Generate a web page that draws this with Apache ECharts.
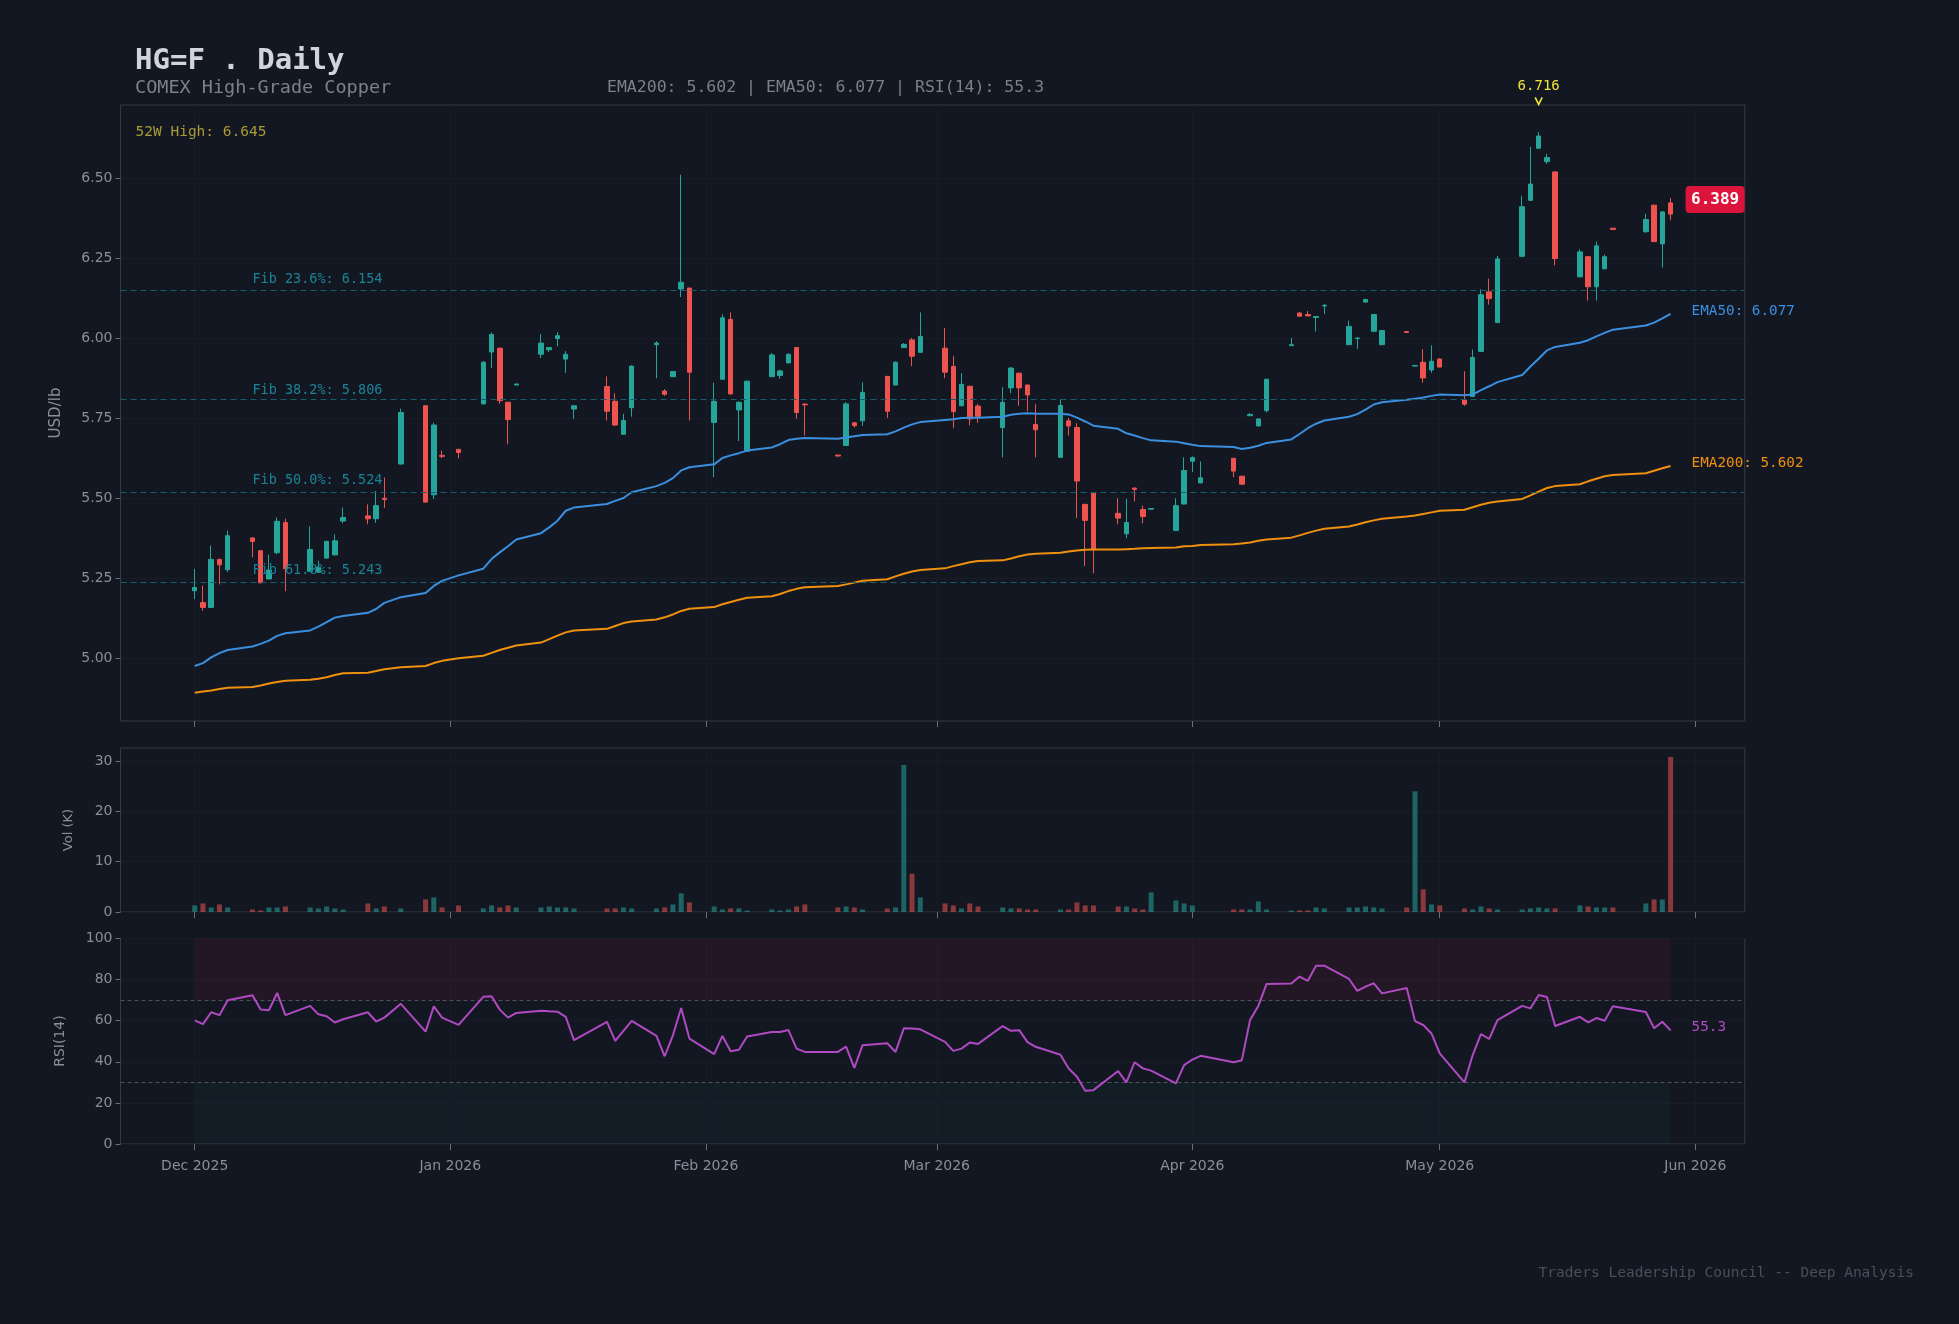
<!DOCTYPE html>
<html><head><meta charset="utf-8">
<script src="https://cdn.jsdelivr.net/npm/echarts@6/dist/echarts.min.js"></script>
<style>html,body{margin:0;padding:0;background:#131722}#c{width:1959px;height:1324px}</style>
</head><body><div id="c"></div>
<script>
// ---------------- DATA ----------------
const tradeDates = [
 '2025-12-01','2025-12-02','2025-12-03','2025-12-04','2025-12-05','2025-12-08','2025-12-09','2025-12-10','2025-12-11','2025-12-12',
 '2025-12-15','2025-12-16','2025-12-17','2025-12-18','2025-12-19','2025-12-22','2025-12-23','2025-12-24','2025-12-26','2025-12-29','2025-12-30','2025-12-31',
 '2026-01-02','2026-01-05','2026-01-06','2026-01-07','2026-01-08','2026-01-09','2026-01-12','2026-01-13','2026-01-14','2026-01-15','2026-01-16',
 '2026-01-20','2026-01-21','2026-01-22','2026-01-23','2026-01-26','2026-01-27','2026-01-28','2026-01-29','2026-01-30',
 '2026-02-02','2026-02-03','2026-02-04','2026-02-05','2026-02-06','2026-02-09','2026-02-10','2026-02-11','2026-02-12','2026-02-13',
 '2026-02-17','2026-02-18','2026-02-19','2026-02-20','2026-02-23','2026-02-24','2026-02-25','2026-02-26','2026-02-27',
 '2026-03-02','2026-03-03','2026-03-04','2026-03-05','2026-03-06','2026-03-09','2026-03-10','2026-03-11','2026-03-12','2026-03-13',
 '2026-03-16','2026-03-17','2026-03-18','2026-03-19','2026-03-20','2026-03-23','2026-03-24','2026-03-25','2026-03-26','2026-03-27','2026-03-30','2026-03-31',
 '2026-04-01','2026-04-02','2026-04-06','2026-04-07','2026-04-08','2026-04-09','2026-04-10','2026-04-13','2026-04-14','2026-04-15','2026-04-16','2026-04-17',
 '2026-04-20','2026-04-21','2026-04-22','2026-04-23','2026-04-24','2026-04-27','2026-04-28','2026-04-29','2026-04-30',
 '2026-05-01','2026-05-04','2026-05-05','2026-05-06','2026-05-07','2026-05-08','2026-05-11','2026-05-12','2026-05-13','2026-05-14','2026-05-15',
 '2026-05-18','2026-05-19','2026-05-20','2026-05-21','2026-05-22','2026-05-26','2026-05-27','2026-05-28','2026-05-29'
];
const openP = [
 5.212,5.175,5.160,5.310,5.278,5.377,5.337,5.249,5.331,5.425,5.273,5.270,5.314,5.324,5.430,5.446,5.437,5.501,5.608,5.790,5.512,5.635,
 5.654,5.796,5.958,5.970,5.801,5.855,5.951,5.965,6.000,5.936,5.780,5.850,5.804,5.701,5.784,5.981,5.836,5.881,6.155,6.158,
 5.738,5.873,6.060,5.777,5.648,5.881,5.885,5.924,5.972,5.795,5.636,5.666,5.737,5.743,5.882,5.855,5.972,5.996,5.957,
 5.970,5.913,5.790,5.851,5.789,5.722,5.846,5.892,5.855,5.732,5.629,5.743,5.722,5.482,5.517,5.454,5.390,5.533,5.466,5.467,5.400,5.483,
 5.617,5.549,5.626,5.570,5.759,5.727,5.775,5.978,6.080,6.075,6.066,6.102,5.981,6.000,6.114,6.023,5.981,6.022,5.914,5.926,5.902,
 5.936,5.808,5.819,5.960,6.146,6.050,6.257,6.432,6.595,6.553,6.521,6.193,6.256,6.162,6.218,6.345,6.334,6.417,6.296,6.424
];
const closeP = [
 5.222,5.160,5.310,5.293,5.384,5.366,5.237,5.277,5.429,5.281,5.341,5.286,5.366,5.368,5.441,5.437,5.478,5.497,5.769,5.489,5.730,5.632,
 5.644,5.926,6.013,5.806,5.747,5.858,5.986,5.972,6.009,5.951,5.790,5.773,5.730,5.744,5.914,5.986,5.826,5.897,6.176,5.895,
 5.804,6.065,5.827,5.801,5.867,5.949,5.899,5.951,5.769,5.793,5.633,5.796,5.728,5.832,5.773,5.926,5.982,5.945,6.007,
 5.895,5.772,5.857,5.749,5.757,5.801,5.908,5.846,5.824,5.715,5.791,5.727,5.555,5.432,5.341,5.439,5.425,5.529,5.444,5.469,5.478,5.588,
 5.628,5.565,5.586,5.545,5.763,5.749,5.873,5.981,6.070,6.071,6.069,6.104,6.038,6.002,6.122,6.075,6.025,6.019,5.916,5.877,5.929,
 5.911,5.795,5.941,6.137,6.125,6.249,6.412,6.483,6.633,6.566,6.250,6.271,6.162,6.290,6.256,6.341,6.372,6.303,6.396,6.389
];
const lowP = [
 5.186,5.149,5.158,5.232,5.270,5.317,5.235,5.247,5.326,5.211,5.271,5.269,5.313,5.323,5.423,5.420,5.424,5.471,5.607,5.488,5.499,5.626,
 5.626,5.795,5.908,5.796,5.670,5.854,5.939,5.958,5.976,5.893,5.749,5.744,5.727,5.700,5.756,5.876,5.821,5.880,6.130,5.744,
 5.567,5.871,5.826,5.680,5.646,5.880,5.874,5.923,5.749,5.697,5.632,5.665,5.722,5.727,5.752,5.854,5.971,5.914,5.956,
 5.876,5.720,5.789,5.729,5.737,5.629,5.829,5.790,5.773,5.629,5.628,5.697,5.439,5.289,5.267,5.420,5.376,5.491,5.423,5.466,5.399,5.482,
 5.583,5.548,5.567,5.544,5.758,5.726,5.769,5.977,6.069,6.070,6.022,6.077,5.980,5.968,6.112,6.020,5.980,6.018,5.913,5.862,5.893,
 5.910,5.790,5.818,5.958,6.106,6.049,6.256,6.431,6.594,6.546,6.229,6.192,6.119,6.119,6.217,6.340,6.331,6.302,6.222,6.370
];
const highP = [
 5.280,5.228,5.353,5.312,5.400,5.378,5.338,5.325,5.441,5.437,5.413,5.306,5.369,5.388,5.472,5.482,5.524,5.566,5.781,5.791,5.737,5.650,
 5.655,5.930,6.019,5.972,5.802,5.859,6.014,5.973,6.020,5.961,5.791,5.882,5.829,5.765,5.916,5.992,5.842,5.899,6.512,6.158,
 5.862,6.076,6.082,5.804,5.868,5.955,5.903,5.954,5.973,5.799,5.637,5.801,5.738,5.863,5.882,5.929,5.986,6.002,6.082,
 6.033,5.945,5.892,5.852,5.796,5.848,5.911,5.893,5.856,5.795,5.810,5.752,5.736,5.484,5.518,5.501,5.499,5.534,5.478,5.470,5.501,5.629,
 5.632,5.616,5.627,5.571,5.767,5.750,5.874,6.002,6.082,6.086,6.070,6.108,6.056,6.003,6.123,6.076,6.027,6.023,5.917,5.967,5.979,
 5.939,5.898,5.966,6.154,6.187,6.258,6.446,6.599,6.645,6.577,6.522,6.279,6.257,6.303,6.262,6.346,6.390,6.418,6.398,6.439
];
const volumeK = [
 1.3,1.7,0.9,1.5,0.9,0.5,0.3,0.9,0.9,1.1,0.9,0.7,1.1,0.7,0.5,1.7,0.7,1.1,0.7,2.5,2.9,0.9,
 1.3,0.7,1.3,0.9,1.3,0.9,0.9,1.1,0.9,0.9,0.7,0.7,0.7,0.9,0.7,0.7,0.9,1.5,3.7,1.9,
 1.1,0.5,0.7,0.7,0.3,0.5,0.3,0.5,1.1,1.5,0.9,1.1,0.9,0.5,0.7,0.9,29.2,7.6,2.9,
 1.7,1.3,0.7,1.7,1.1,0.9,0.7,0.7,0.5,0.5,0.5,0.5,1.9,1.3,1.3,1.1,1.1,0.7,0.5,3.9,2.3,1.7,
 1.3,0,0.5,0.5,0.5,2.1,0.5,0.3,0.3,0.3,0.9,0.7,0.9,0.9,1.1,0.9,0.7,0.9,24.0,4.5,1.5,
 1.3,0.7,0.5,1.1,0.7,0.5,0.5,0.7,0.9,0.7,0.7,1.3,1.1,0.9,0.9,0.9,1.7,2.5,2.5,30.8
];
const ema50 = [
 4.977,4.986,5.004,5.017,5.027,5.038,5.046,5.056,5.071,5.079,5.088,5.100,5.114,5.128,5.133,5.143,5.155,5.174,5.192,5.205,5.227,5.243,
 5.260,5.281,5.311,5.332,5.351,5.372,5.392,5.410,5.431,5.462,5.472,5.483,5.493,5.502,5.520,5.539,5.549,5.564,5.588,5.598,
 5.607,5.627,5.635,5.642,5.650,5.660,5.670,5.683,5.687,5.689,5.687,5.691,5.695,5.699,5.701,5.710,5.722,5.732,5.739,
 5.746,5.748,5.752,5.753,5.753,5.756,5.762,5.765,5.767,5.765,5.765,5.763,5.753,5.741,5.728,5.718,5.704,5.697,5.689,5.682,5.678,5.673,
 5.668,5.664,5.661,5.655,5.659,5.665,5.674,5.685,5.702,5.720,5.734,5.744,5.756,5.764,5.778,5.794,5.801,5.809,5.812,5.816,5.821,
 5.825,5.823,5.825,5.839,5.851,5.864,5.886,5.913,5.937,5.963,5.974,5.987,5.995,6.007,6.018,6.028,6.041,6.050,6.063,6.077
];
const ema200 = [
 4.893,4.897,4.900,4.905,4.909,4.911,4.916,4.922,4.927,4.931,4.934,4.937,4.942,4.949,4.954,4.956,4.961,4.967,4.973,4.977,4.986,4.993,
 5.001,5.009,5.018,5.027,5.034,5.041,5.050,5.061,5.072,5.082,5.088,5.093,5.102,5.111,5.116,5.122,5.129,5.138,5.149,5.156,
 5.161,5.170,5.177,5.184,5.190,5.195,5.202,5.211,5.218,5.223,5.227,5.232,5.238,5.243,5.248,5.257,5.265,5.272,5.277,
 5.282,5.289,5.295,5.301,5.305,5.307,5.313,5.320,5.325,5.328,5.331,5.335,5.338,5.340,5.341,5.341,5.342,5.343,5.345,5.346,5.347,5.351,
 5.352,5.355,5.357,5.360,5.363,5.368,5.372,5.378,5.385,5.393,5.400,5.406,5.413,5.419,5.426,5.432,5.437,5.444,5.447,5.452,5.457,
 5.462,5.465,5.473,5.481,5.487,5.491,5.499,5.510,5.522,5.533,5.539,5.545,5.554,5.562,5.570,5.574,5.579,5.587,5.595,5.602
];
const rsi14 = [
 60.2,58.3,64.1,62.7,70.0,72.4,65.4,65.1,73.5,62.7,67.2,63.1,62.2,59.1,60.7,64.1,59.6,61.5,68.2,54.7,67.0,61.5,
 58.0,71.6,71.9,65.4,61.5,63.8,64.9,64.6,64.4,61.9,50.5,59.4,50.2,55.0,59.9,52.6,42.7,52.9,66.2,51.3,
 43.7,52.6,45.1,45.9,52.3,54.5,54.5,55.5,46.4,44.8,44.8,47.4,37.0,48.1,49.0,44.8,56.3,56.2,55.8,
 49.7,45.3,46.4,49.4,48.7,57.4,55.1,55.4,49.6,47.3,43.4,36.7,32.7,25.9,26.2,35.5,30.0,39.8,36.8,35.7,29.5,38.4,
 41.1,42.9,39.8,40.8,60.4,67.2,77.9,78.1,81.5,79.4,86.7,86.8,80.3,74.5,76.6,78.2,73.3,75.9,59.8,57.9,53.8,
 44.1,30.0,43.3,53.5,51.1,60.3,67.2,66.0,72.5,71.5,57.4,61.9,59.2,61.3,60.0,67.0,64.2,56.3,59.5,55.3
];
const fibLevels = [6.154, 5.806, 5.524, 5.243];
const fibNames = ['23.6%', '38.2%', '50.0%', '61.8%'];
const priceTicks = [5.00, 5.25, 5.50, 5.75, 6.00, 6.25, 6.50];
const volTicks = [0, 10, 20, 30];
const monthNames = ['Jan','Feb','Mar','Apr','May','Jun','Jul','Aug','Sep','Oct','Nov','Dec'];
const axisStart = '2025-11-22', axisEnd = '2026-06-07';
const high52w = 6.645, peakMark = 6.716, peakDate = '2026-05-13';
const lastPrice = 6.389, lastEma200 = 5.602, lastEma50 = 6.077, lastRsi = 55.3;

// ---------------- BUILD ----------------
const cats = [];
(function(){
  const p = s => s.split('-').map(Number);
  const a = p(axisStart), b = p(axisEnd);
  for (let t = Date.UTC(a[0], a[1]-1, a[2]); t <= Date.UTC(b[0], b[1]-1, b[2]); t += 86400000) {
    cats.push(new Date(t).toISOString().slice(0,10));
  }
})();
const idxOf = {}; tradeDates.forEach((d,i)=>idxOf[d]=i);
const UP = '#26a69a', DN = '#ef5350';
const candleData = cats.map(d => d in idxOf ? [openP[idxOf[d]], closeP[idxOf[d]], lowP[idxOf[d]], highP[idxOf[d]]] : '-');
const full = arr => cats.map(d => d in idxOf ? arr[idxOf[d]] : null);
const volData = cats.map(d => {
  if (!(d in idxOf)) return '-';
  const i = idxOf[d];
  const up = closeP[i] >= openP[i];
  return {value: volumeK[i], itemStyle: {color: up ? 'rgba(38,166,154,0.55)' : 'rgba(239,83,80,0.55)'}};
});
const isMonthStart = (i, v) => v.slice(8) === '01';
const fmtMonth = v => monthNames[+v.slice(5,7)-1] + ' ' + v.slice(0,4);

const MONO = "'DejaVu Sans Mono', monospace";
const SANS = "'DejaVu Sans', sans-serif";
const TICKC = '#8a8e98';
const GL = 120.5, GR = 214.2;
const grids = [
  {left: GL, right: GR, top: 105, height: 616},
  {left: GL, right: GR, top: 748, height: 164},
  {left: GL, right: GR, top: 938.5, height: 205.5}
].map(g => Object.assign(g, {show: true, borderColor: '#363a45', borderWidth: 1, backgroundColor: '#131722'}));

const xAxes = [0,1,2].map(i => ({
  type: 'category', gridIndex: i, data: cats, boundaryGap: false,
  axisLine: {show: false},
  axisTick: {show: true, interval: isMonthStart, length: 6, lineStyle: {color: '#6b6f7a'}},
  axisLabel: {show: i === 2, interval: isMonthStart, formatter: fmtMonth, color: TICKC, fontSize: 14, fontFamily: SANS, margin: 15},
  splitLine: {show: true, interval: isMonthStart, lineStyle: {color: '#181c27', width: 1}}
}));

const yBase = {
  axisLine: {show: false},
  axisTick: {show: true, length: 5, lineStyle: {color: '#6b6f7a'}},
  axisLabel: {color: TICKC, fontSize: 14, fontFamily: SANS, margin: 8, padding: [5, 0, 0, 0]},
  splitLine: {show: true, lineStyle: {color: '#181c27', width: 1}}
};
const yAxes = [
  Object.assign({}, yBase, {type: 'value', gridIndex: 0, min: 4.805, max: 6.73,
    axisTick: Object.assign({}, yBase.axisTick, {customValues: priceTicks}),
    axisLabel: Object.assign({}, yBase.axisLabel, {customValues: priceTicks, formatter: v => v.toFixed(2)})}),
  Object.assign({}, yBase, {type: 'value', gridIndex: 1, min: 0, max: 32.6,
    axisTick: Object.assign({}, yBase.axisTick, {customValues: volTicks}),
    axisLabel: Object.assign({}, yBase.axisLabel, {customValues: volTicks})}),
  Object.assign({}, yBase, {type: 'value', gridIndex: 2, min: 0, max: 100, interval: 20})
];

const option = {
  backgroundColor: '#131722',
  animation: false,
  grid: grids,
  xAxis: xAxes,
  yAxis: yAxes,
  series: [
    {
      type: 'candlestick', xAxisIndex: 0, yAxisIndex: 0, data: candleData, barWidth: 5,
      itemStyle: {color: UP, color0: DN, borderColor: UP, borderColor0: DN, borderWidth: 1},
      emphasis: {disabled: true}, z: 3,
      markLine: {
        silent: true, symbol: ['none','none'], animation: false,
        lineStyle: {type: [6, 4], color: '#145f6e', width: 1.2},
        label: {show: false},
        data: fibLevels.map(v => ({yAxis: v}))
      }
    },
    {type: 'line', name: 'EMA50', xAxisIndex: 0, yAxisIndex: 0, data: full(ema50), connectNulls: true,
     showSymbol: false, symbol: 'none', lineStyle: {color: '#3a8fdf', width: 2}, z: 4, silent: true},
    {type: 'line', name: 'EMA200', xAxisIndex: 0, yAxisIndex: 0, data: full(ema200), connectNulls: true,
     showSymbol: false, symbol: 'none', lineStyle: {color: '#f0900f', width: 2}, z: 4, silent: true},
    {type: 'bar', xAxisIndex: 1, yAxisIndex: 1, data: volData, barWidth: 5, silent: true},
    {type: 'line', xAxisIndex: 2, yAxisIndex: 2, data: full(rsi14), connectNulls: true,
     showSymbol: false, symbol: 'none', lineStyle: {color: '#b04ac2', width: 2}, z: 5, silent: true,
     markArea: {silent: true, data: [
       [{xAxis: tradeDates[0], yAxis: 70, itemStyle: {color: 'rgba(200,30,90,0.09)'}}, {xAxis: tradeDates[tradeDates.length-1], yAxis: 100}],
       [{xAxis: tradeDates[0], yAxis: 0, itemStyle: {color: 'rgba(38,166,154,0.04)'}}, {xAxis: tradeDates[tradeDates.length-1], yAxis: 30}]
     ]},
     markLine: {silent: true, symbol: ['none','none'], label: {show: false},
       lineStyle: {type: [4, 3], color: '#4e525d', width: 1.2},
       data: [{yAxis: 70}, {yAxis: 30}]}
    }
  ]
};

const chart = echarts.init(document.getElementById('c'));
chart.setOption(option);

// ---------------- ANNOTATIONS ----------------
const P = (gi, x, y) => chart.convertToPixel({gridIndex: gi}, [x, y]);
const lastDate = tradeDates[tradeDates.length - 1];
const g = [];
const txt = (x, y, text, fill, size, opts) => g.push(Object.assign({
  type: 'text', x: x, y: y, z: 100,
  style: Object.assign({text: text, fill: fill, font: size + 'px ' + MONO, textAlign: 'left', textVerticalAlign: 'middle'}, (opts && opts.style) || {})
}, (opts && opts.el) || {}));

// header
txt(135, 61, 'HG=F . Daily', '#d1d4dc', 29, {style: {font: 'bold 29px ' + MONO}});
txt(135, 88, 'COMEX High-Grade Copper', '#7c808b', 18.5);
txt(607, 88, 'EMA200: ' + lastEma200.toFixed(3) + ' | EMA50: ' + lastEma50.toFixed(3) + ' | RSI(14): ' + lastRsi.toFixed(1), '#7c808b', 16.5);
// footer
txt(1914, 1273, 'Traders Leadership Council -- Deep Analysis', '#4b4f5a', 14.5, {style: {textAlign: 'right'}});

// 52W high
txt(GL + 15, 132, '52W High: ' + high52w.toFixed(3), '#a89a35', 14.5);

// fib labels
fibLevels.forEach((v, k) => {
  const p = P(0, tradeDates[5], v);
  txt(p[0], p[1] - 3, 'Fib ' + fibNames[k] + ': ' + v.toFixed(3), '#1b8396', 13.5, {style: {textVerticalAlign: 'bottom'}});
});

// EMA end labels
const pe50 = P(0, lastDate, lastEma50), pe200 = P(0, lastDate, lastEma200);
txt(pe50[0] + 21, pe50[1] - 3, 'EMA50: ' + lastEma50.toFixed(3), '#3a8fdf', 14.3);
txt(pe200[0] + 21, pe200[1] - 3, 'EMA200: ' + lastEma200.toFixed(3), '#f0900f', 14.3);

// last price box
const plast = P(0, lastDate, lastPrice);
g.push({type: 'rect', z: 99, shape: {x: plast[0] + 15, y: plast[1] - 28, width: 59, height: 27, r: 4}, style: {fill: '#dc143c'}});
txt(plast[0] + 15 + 29.5, plast[1] - 14.5, lastPrice.toFixed(3), '#ffffff', 16, {style: {font: 'bold 16px ' + MONO, textAlign: 'center'}});

// peak annotation
const ppk = P(0, peakDate, peakMark);
txt(ppk[0], ppk[1] - 23, peakMark.toFixed(3), '#f2e23c', 14, {style: {textAlign: 'center'}});
g.push({type: 'polyline', z: 100, shape: {points: [[ppk[0]-3.5, ppk[1]-12], [ppk[0], ppk[1]-5], [ppk[0]+3.5, ppk[1]-12]]},
  style: {stroke: '#f2e23c', lineWidth: 1.6, fill: null}});

// RSI label
const prsi = P(2, lastDate, lastRsi);
txt(prsi[0] + 21, prsi[1] - 3, lastRsi.toFixed(1), '#b04ac2', 14.3);

// axis names (rotated)
const rot = (x, y, text, size) => g.push({type: 'text', x: x, y: y, rotation: Math.PI / 2, z: 100,
  style: {text: text, fill: TICKC, font: size + 'px ' + SANS, textAlign: 'center', textVerticalAlign: 'middle'}});
rot(56, 413, 'USD/lb', 15);
rot(69, 830, 'Vol (K)', 13);
rot(60, 1041, 'RSI(14)', 14);

chart.setOption({graphic: g});
</script>
</body></html>
